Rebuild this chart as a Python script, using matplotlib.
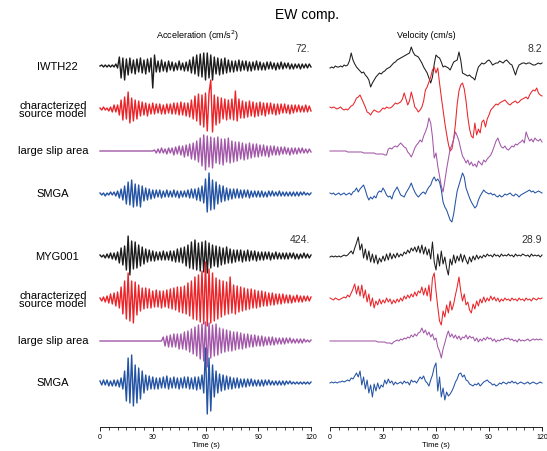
import numpy as np
import matplotlib.pyplot as plt
from matplotlib.ticker import MultipleLocator

plt.rcParams['font.family'] = ['Liberation Sans', 'DejaVu Sans']

# sample times (1 s)
time_s = np.arange(0, 121)

stations = ['IWTH22', 'MYG001']
model_labels = ['characterized\nsource model', 'large slip area', 'SMGA']
acc_peaks = ['72.', '424.']
vel_peaks = ['8.2', '28.9']
trace_colors = ['#1c1c1c', '#ea2429', '#a257a8', '#2453a4']

# --- IWTH22 acceleration
acc_iwth_obs = [0, 1, -1, 1, -1, 1, -1, 1, -1, 2, -2,
                9, -12, 8, -14, 7, -9, 8, -7, 6, -8,
                7, -6, 8, -7, 6, -8, 7, -6, 8, -22,
                11, -6, 5, -6, 6, -5, 4, -6, 5, -4,
                4, -5, 3, -4, 5, -4, 3, -5, 4, -5,
                6, -7, 9, -8, 11, -10, 12, -11, 13, -14,
                13, -12, 11, -14, 9, -8, 8, -9, 7, -8,
                8, -7, 6, -6, 5, -6, 5, -5, 6, -5,
                5, -4, 5, -5, 4, -5, 4, -4, 5, -4,
                4, -4, 3, -4, 4, -3, 4, -3, 3, -4,
                3, -3, 4, -3, 3, -2, 3, -3, 2, -3,
                2, -2, 2, -3, 2, -2, 2, -2, 2, -1]
acc_iwth_csm = [1, -1, 2, -1, 1, -2, 2, -3, 4, -3, 4,
                -6, 9, -11, 12, -10, 17, -14, 11, -12, 9,
                -10, 8, -7, 7, -6, 6, -7, 5, -5, 6,
                -5, 5, -4, 5, -5, 4, -5, 5, -4, 5,
                -5, 6, -5, 6, -6, 7, -6, 6, -7, 6,
                -8, 9, -10, 13, -12, 15, -16, 14, -18, 16,
                -22, 16, 29, -23, 14, -16, 12, -14, 11, -10,
                10, -11, 9, -10, 10, -11, 18, -12, 10, -9,
                8, -9, 7, -8, 8, -7, 7, -8, 6, -7,
                7, -6, 6, -7, 6, -5, 6, -5, 5, -6,
                5, -5, 5, -4, 5, -4, 4, -5, 4, -4,
                4, -3, 4, -3, 3, -3, 4, -3, 3, -2]
acc_iwth_lsa = [0, 0, 0, 0, 0, 0, 0, 0, 0, 0, 0,
                0, 0, 0, 0, 0, 0, 0, 0, 0, 0,
                0, 0, 0, 0, 0, 0, 0, 0, 0, 0,
                1, -2, 2, -2, 3, -2, 2, -3, 3, -2,
                3, -4, 4, -3, 5, -4, 5, -6, 6, -5,
                7, -8, 8, -9, 10, -11, 13, -15, 16, -19,
                15, -16, 14, -17, 13, -12, 14, -13, 12, -14,
                12, -11, 13, -12, 10, -11, 9, -10, 9, -8,
                8, -9, 7, -8, 8, -7, 7, -6, 7, -6,
                6, -5, 6, -5, 5, -6, 5, -4, 5, -4,
                4, -4, 4, -3, 4, -3, 3, -4, 3, -3,
                3, -3, 3, -2, 3, -2, 2, -2, 2, -1]
acc_iwth_smga = [1, -1, 1, -2, 1, -1, 2, -1, 2, -2, 3,
                 -4, 5, -6, 8, -10, 12, -11, 14, -13, 10,
                 -12, 9, -13, 8, -7, 6, -6, 5, -5, 4,
                 -4, 4, -3, 4, -4, 3, -3, 4, -3, 3,
                 -3, 4, -3, 3, -4, 3, -3, 3, -3, 4,
                 -4, 5, -4, 5, -6, 6, -7, 8, -9, 15,
                 -18, 21, -16, 14, -15, 12, -10, 9, -8, 8,
                 -7, 6, -6, 5, -5, 5, -4, 5, -4, 4,
                 -4, 4, -3, 4, -4, 3, -3, 3, -3, 3,
                 -3, 3, -3, 2, -3, 3, -2, 3, -2, 2,
                 -2, 3, -2, 2, -2, 2, -2, 2, -2, 2,
                 -2, 2, -2, 2, -1, 2, -1, 1, -1, 1]
# --- MYG001 acceleration
acc_myg_obs = [1, -1, 1, -2, 2, -2, 3, -3, 3, -4, 4,
               -7, 8, -9, 10, -14, 20, -19, 15, -13, 14,
               -12, 11, -10, 9, -8, 7, -6, 6, -5, 5,
               -5, 4, -4, 4, -4, 5, -4, 4, -4, 5,
               -5, 5, -6, 7, -6, 8, -7, 9, -10, 11,
               -12, 14, -13, 16, -14, 13, -15, 14, -16, 15,
               -17, 13, -12, 11, -10, 10, -11, 9, -9, 8,
               -8, 9, -7, 7, -7, 6, -6, 6, -5, 6,
               -6, 5, -5, 6, -5, 5, -4, 5, -5, 4,
               -4, 4, -4, 4, -3, 4, -4, 3, -3, 4,
               -3, 3, -3, 3, -3, 3, -3, 3, -2, 3,
               -3, 2, -3, 2, -2, 3, -2, 2, -2, 1]
acc_myg_csm = [1, -2, 2, -3, 3, -4, 5, -5, 6, -7, 7,
               -9, 12, -15, 18, -20, 26, -22, 18, -24, 17,
               -16, 14, -12, 11, -10, 11, -9, 10, -9, 8,
               -8, 9, -8, 8, -9, 8, -8, 9, -9, 10,
               -10, 11, -11, 12, -13, 12, -14, 13, -15, 16,
               -17, 18, -20, 22, -21, 24, -23, 28, -25, 37,
               -27, 30, -24, 26, -22, 21, -20, 19, -18, 18,
               -16, 17, -15, 22, -14, 14, -15, 13, -13, 12,
               -12, 11, -11, 10, -10, 10, -9, 9, -9, 8,
               -8, 8, -7, 7, -7, 6, -6, 6, -6, 5,
               -5, 5, -5, 5, -4, 4, -4, 4, -4, 3,
               -3, 4, -3, 3, -3, 3, -2, 3, -2, 2]
acc_myg_lsa = [0, 0, 0, 0, 0, 0, 0, 0, 0, 0, 0,
               0, 0, 0, 0, 0, 0, 0, 0, 0, 0,
               0, 0, 0, 0, 0, 0, 0, 0, 0, 0,
               0, 0, 0, 0, 0, 4, -5, 5, -6, 6,
               -6, 7, -6, 7, -8, 7, -8, 9, -9, 10,
               -11, 12, -13, 14, -15, 16, -18, 17, -20, 19,
               -26, 18, -17, 16, -15, 17, -14, 13, -12, 12,
               -11, 11, -10, 10, -10, 9, -9, 9, -8, 8,
               -8, 7, -7, 7, -6, 6, -6, 6, -5, 5,
               -5, 5, -5, 4, -4, 4, -4, 4, -4, 3,
               -3, 3, -3, 3, -3, 3, -2, 3, -2, 2,
               -2, 2, -2, 2, -2, 2, -1, 1, -1, 1]
acc_myg_smga = [2, -2, 3, -2, 3, -3, 2, -3, 3, -3, 3,
                -4, 5, -6, 12, -18, 25, -20, 28, -23, 18,
                -20, 15, -16, 12, -10, 8, -7, 7, -6, 6,
                -6, 5, -6, 5, -5, 6, -5, 7, -6, 5,
                -5, 6, -5, 5, -6, 5, -5, 6, -5, 6,
                -6, 5, -6, 6, -7, 6, -6, 8, -10, 35,
                -31, 25, -28, 18, -14, 12, -10, 9, -8, 8,
                -7, 7, -6, 6, -6, 5, -5, 5, -5, 4,
                -4, 4, -4, 4, -3, 4, -3, 3, -3, 3,
                -3, 3, -3, 3, -2, 3, -2, 2, -2, 2,
                -2, 2, -2, 2, -2, 2, -1, 2, -1, 1,
                -1, 1, -1, 1, -1, 1, -1, 1, -1, 1]
# --- IWTH22 velocity
vel_iwth_obs = [-2, -1, -2, 0, -1, -1, 0, -1, 1, 0, 1,
                5, 13, 6, 2, -1, -3, -5, -7, -6, -9,
                -11, -14, -21, -17, -14, -11, -9, -7, -8, -6,
                -5, -3, -2, -1, 1, 3, 4, 6, 7, 8,
                9, 10, 11, 12, 13, 19, 14, 11, 10, 9,
                6, 3, -1, -4, -7, -12, -17, -11, 2, 11,
                9, 8, 4, -1, 0, -1, -2, -4, 0, 4,
                5, 6, 14, 6, -7, -8, -9, -10, -9, -11,
                -12, -14, -7, -1, 1, 3, 2, 3, 5, 6,
                4, 1, 2, 3, 3, 5, 4, 3, 5, 6,
                4, 2, 1, -4, -9, -3, 1, 2, 3, 3,
                2, 3, 3, 2, 1, 1, 2, 3, 2, 3]
vel_iwth_csm = [2, 1, 2, 1, 0, 1, 2, 0, -1, 0, -1,
                1, 3, 4, 7, 11, 12, 14, 10, 6, 2,
                -3, -4, -6, -3, -1, -2, -3, -3, -1, 1,
                0, 2, 1, 1, 2, 4, 6, 5, 6, 7,
                10, 16, 10, 4, 8, 17, 10, 2, 0, -3,
                -1, 2, 8, 19, 22, 27, 32, 39, 42, 36,
                41, 26, 12, -1, -14, -25, -35, -42, -40, -30,
                -15, 5, 18, 24, 26, 20, 8, -8, -20, -27,
                -29, -14, -26, -20, -24, -13, -11, -18, -10, -6,
                -1, 1, 3, 5, 4, 6, 7, 8, 9, 7,
                5, 4, 6, 7, 8, 6, 7, 9, 10, 11,
                12, 10, 14, 17, 19, 18, 21, 16, 14, 13]
vel_iwth_lsa = [0, 0, 0, 0, 0, 0, 0, 0, 0, 0, -1,
                -1, -1, -1, -1, -1, -1, -1, -1, -2, -2,
                -2, -2, -2, -2, -2, -3, -3, -3, -3, -3,
                -4, -4, 2, 3, 2, 4, 5, 4, 6, 8,
                6, 4, 3, -1, -3, -6, -2, 3, 6, 8,
                11, 9, 15, 19, 24, 33, 28, 14, -7, -2,
                -15, -25, -35, -41, -30, -18, -8, 2, 6, 12,
                19, 15, 10, 2, -5, -8, -12, -9, -14, -11,
                -15, -13, -16, -10, -12, -14, -9, -11, -8, -6,
                -4, 0, 5, 10, 13, 8, 4, 3, 5, 2,
                1, 3, 5, 4, 7, 6, 8, 9, 11, 8,
                19, 14, 10, 12, 9, 13, 11, 10, 12, 9]
vel_iwth_smga = [1, 0, 1, -1, 0, 1, -1, 0, 1, -1, 0,
                 1, -1, 2, 3, 6, 2, 5, 7, 9, 4,
                 -2, -6, -3, -5, -2, -4, 1, 3, 2, 6,
                 3, -1, -3, -2, -5, 1, 4, 7, 3, -1,
                 -2, -3, 1, 4, 7, 11, 6, 2, -1, -3,
                 -1, 1, 2, 0, 4, 7, 9, 14, 17, 13,
                 15, 12, 4, -8, -13, -16, -21, -26, -28, -20,
                 -8, 3, 9, 15, 21, 17, 6, 1, -4, -8,
                 -11, -14, -12, -6, -2, 1, 4, 2, 1, 0,
                 1, -1, 0, -2, -3, -1, -3, -2, 0, -1,
                 0, 1, -1, -2, 0, -1, -3, -1, 0, 1,
                 2, 3, 4, 2, 3, 1, 2, 3, 2, 1]
# --- MYG001 velocity
vel_myg_obs = [-1, 0, -1, 0, -1, 0, -1, 0, 1, 0, 1,
               3, 5, 2, 8, 13, 19, 6, 12, -2, 7,
               -4, 5, -6, 2, -7, 1, -8, -2, -6, 0,
               -5, 2, -4, 3, -3, 2, -2, 3, -1, 2,
               0, 4, 2, 6, 3, 8, 5, 9, 4, 10,
               3, 11, 2, 9, 1, 7, -3, 14, -6, -14,
               2, -10, 5, -8, -1, -12, -19, -3, -9, 1,
               -7, 0, -5, 2, -6, 1, -4, -8, -1, -6,
               0, -4, 1, -3, 0, -2, 1, -1, 2, 0,
               1, -1, 2, 0, 1, -1, 2, 0, 1, 0,
               2, 0, 1, -1, 2, 0, 1, 0, 2, 1,
               0, 1, -1, 2, 0, 1, 0, 1, -1, 1]
vel_myg_csm = [1, 0, -1, 1, 0, -1, 0, 1, 2, 1, 4,
               2, 6, 10, 15, 5, 13, 3, 14, 1, 9,
               -3, 5, -7, 1, -9, -2, -6, 0, -5, -1,
               -4, 1, -3, 0, -5, -1, -4, 0, -3, 1,
               -2, 3, 0, 4, 1, 5, 2, 7, 3, 8,
               6, 12, 4, 11, 3, 14, -2, 21, 26, 8,
               -8, -22, -26, -12, -18, -6, -14, -2, -11, -5,
               4, 12, 22, 8, -2, 5, -6, -3, -11, -14,
               -5, -10, -2, -7, 0, -4, 2, -3, 1, -2,
               3, -1, 2, -2, 1, -3, 0, -2, 1, -1,
               0, -2, 1, -1, 0, -2, 1, -1, 0, -2,
               1, -1, 0, -2, 1, 0, -1, 1, 0, 1]
vel_myg_lsa = [0, 0, 0, 0, 0, 0, 0, 0, 0, 0, 0,
               0, 0, 0, 0, 0, 0, 0, 0, 0, 0,
               0, 0, 0, 0, 0, 0, -1, -1, -1, -1,
               -1, -2, -2, -2, -3, -1, 0, 1, 0, 2,
               1, 3, 2, 4, 3, 6, 4, 7, 5, 8,
               9, 13, 8, 11, 6, 9, 4, 7, 1, 3,
               -6, -10, -17, -8, -2, 5, 10, 4, 7, 3,
               6, 2, 5, 1, 4, 3, 6, 2, 5, 3,
               4, 0, 3, -1, 2, 0, 3, 1, 4, 2,
               3, 0, 2, -1, 1, 0, 2, 1, 3, 2,
               3, 1, 2, 0, 1, -1, 2, 0, 1, 0,
               1, 2, 0, 1, 2, 1, 2, 1, 2, 1]
vel_myg_smga = [0, 1, 0, 1, 0, 1, 1, 2, 1, 2, 3,
                2, 5, 4, 7, 10, 6, 12, -2, 6, -6,
                3, -10, -2, -14, -1, -8, 0, -6, -2, -4,
                3, -1, 4, 0, 2, -2, 1, -1, 0, 1,
                -1, 2, 0, 1, -2, 3, 1, 2, 0, 3,
                6, 4, 7, 2, 0, -3, 3, 8, 16, 20,
                -8, 6, -14, -5, -17, -9, -13, -11, -8, -4,
                1, 4, 9, 10, 6, 8, 3, 2, -1, -2,
                -3, -1, -2, 0, -3, -1, 1, 2, 3, 1,
                0, -2, -1, -3, -2, 0, -1, 1, 0, -1,
                1, 0, 2, 0, 1, -1, 0, 1, 0, -1,
                0, 1, -1, 0, 1, 0, -1, 0, 1, 0]

acc_traces = [acc_iwth_obs, acc_iwth_csm, acc_iwth_lsa, acc_iwth_smga,
              acc_myg_obs, acc_myg_csm, acc_myg_lsa, acc_myg_smga]
vel_traces = [vel_iwth_obs, vel_iwth_csm, vel_iwth_lsa, vel_iwth_smga,
              vel_myg_obs, vel_myg_csm, vel_myg_lsa, vel_myg_smga]

W, H = 547, 451
# baseline of each row, pixels from the top
row_base = [66, 109, 151, 194, 256, 299, 341, 383]

fig = plt.figure(figsize=(W / 100, H / 100), dpi=100)
ax_acc = fig.add_axes([100 / W, 1 - 427 / H, 211 / W, 387 / H])
ax_vel = fig.add_axes([330 / W, 1 - 427 / H, 212 / W, 387 / H])

for ax, traces, lw in [(ax_acc, acc_traces, 1.0), (ax_vel, vel_traces, 0.75)]:
    for i, tr in enumerate(traces):
        ax.plot(time_s, np.array(tr) - row_base[i], color=trace_colors[i % 4],
                lw=lw, clip_on=False)
    ax.set_xlim(0, 120)
    ax.set_ylim(-427, -40)
    for s in ['left', 'right', 'top']:
        ax.spines[s].set_visible(False)
    ax.spines['bottom'].set_linewidth(0.6)
    ax.set_yticks([])
    ax.set_xticks([0, 30, 60, 90, 120])
    ax.xaxis.set_minor_locator(MultipleLocator(5))
    ax.tick_params(axis='x', which='major', length=3, width=0.6, labelsize=5, pad=2)
    ax.tick_params(axis='x', which='minor', length=2, width=0.5)
    ax.set_xlabel('Time (s)', fontsize=5.5, labelpad=1)

def ftext(x, y, s, **kw):
    fig.text(x / W, 1 - y / H, s, **kw)

ftext(307, 15, 'EW comp.', fontsize=10, ha='center', va='center')
ftext(197, 36, 'Acceleration (cm/s$^2$)', fontsize=6.5, ha='center', va='center')
ftext(426, 36, 'Velocity (cm/s)', fontsize=6.5, ha='center', va='center')

for k in range(2):
    y0 = 49 if k == 0 else 240
    ftext(310, y0, acc_peaks[k], fontsize=7.5, ha='right', va='center', color='#333333')
    ftext(542, y0, vel_peaks[k], fontsize=7.5, ha='right', va='center', color='#333333')
    base = row_base[4 * k:4 * k + 4]
    ftext(57, base[0] + 1, stations[k], fontsize=8, ha='center', va='center')
    for j, lab in enumerate(model_labels):
        ftext(53, base[j + 1] + (0 if j else 1), lab, fontsize=8, ha='center',
              va='center', linespacing=0.8)

fig.savefig('out.png', dpi=100)
